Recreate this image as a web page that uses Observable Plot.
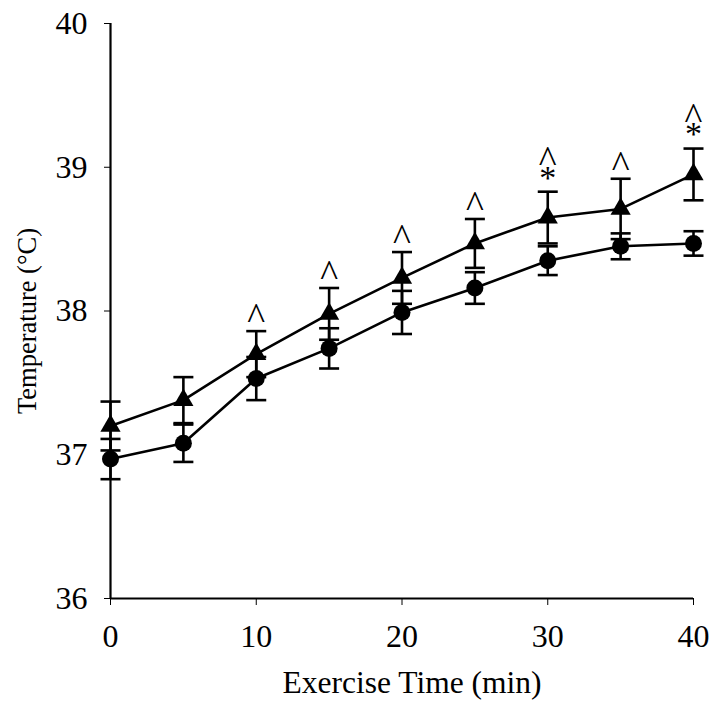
<!DOCTYPE html>
<html>
<head>
<meta charset="utf-8">
<script src="https://cdn.jsdelivr.net/npm/d3@7"></script>
<script src="https://cdn.jsdelivr.net/npm/@observablehq/plot@0.6"></script>
<style>
  body { margin: 0; background: #fff; }
</style>
</head>
<body>
<div id="chart"></div>
<script>
// Exercise time points (min)
const timeMin = [0, 5, 10, 15, 20, 25, 30, 35, 40];

// Triangle series: mean temperature (°C) and standard error
const meanTriangle = [37.20, 37.38, 37.70, 37.98, 38.23, 38.47, 38.65, 38.71, 38.95];
const seTriangle   = [0.17, 0.16, 0.16, 0.18, 0.18, 0.17, 0.18, 0.21, 0.18];

// Circle series: mean temperature (°C) and standard error
const meanCircle = [36.97, 37.08, 37.53, 37.74, 37.99, 38.16, 38.35, 38.45, 38.47];
const seCircle   = [0.14, 0.13, 0.15, 0.14, 0.15, 0.11, 0.10, 0.09, 0.085];

// Significance marks drawn above the triangle series
const caretMarks = ["", "", "^", "^", "^", "^", "^", "^", "^"];
const starMarks  = ["", "", "", "", "", "", "*", "", "*"];

// Axis ticks
const xTicks = [0, 10, 20, 30, 40];
const yTicks = [36, 37, 38, 39, 40];

const rows = (means, ses) => timeMin.map((t, i) => ({
  time: t, mean: means[i], lo: means[i] - ses[i], hi: means[i] + ses[i],
  caret: caretMarks[i], star: starMarks[i]
}));
const triRows = rows(meanTriangle, seTriangle);
const cirRows = rows(meanCircle, seCircle);
const allRows = [...triRows, ...cirRows];

// Horizontal error-bar cap
const capSymbol = {
  draw(ctx) { ctx.moveTo(-10, 0); ctx.lineTo(10, 0); }
};

const serif = "Liberation Serif, Times New Roman, serif";

const chart = Plot.plot({
  width: 714,
  height: 702,
  marginLeft: 110,
  marginRight: 21,
  marginTop: 23,
  marginBottom: 104,
  style: { fontFamily: serif, fontSize: "32px", color: "#000", background: "#fff" },
  x: { domain: [0, 40], ticks: xTicks, tickSize: 7, tickPadding: 19, label: null, tickFormat: d => String(d) },
  y: { domain: [36, 40], ticks: yTicks, tickSize: 6, tickPadding: 17, label: null, tickFormat: d => String(d) },
  marks: [
    // axis lines
    Plot.ruleX([0], { y1: 36, y2: 40, stroke: "#000", strokeWidth: 2.2 }),
    Plot.ruleY([36], { x1: 0, x2: 40, stroke: "#000", strokeWidth: 2.2 }),
    // error bars
    Plot.ruleX(allRows, { x: "time", y1: "lo", y2: "hi", stroke: "#000", strokeWidth: 2.6 }),
    Plot.dot(allRows, { x: "time", y: "hi", symbol: capSymbol, stroke: "#000", strokeWidth: 2.6, fill: "none" }),
    Plot.dot(allRows, { x: "time", y: "lo", symbol: capSymbol, stroke: "#000", strokeWidth: 2.6, fill: "none" }),
    // series lines
    Plot.line(triRows, { x: "time", y: "mean", stroke: "#000", strokeWidth: 2.6 }),
    Plot.line(cirRows, { x: "time", y: "mean", stroke: "#000", strokeWidth: 2.6 }),
    // markers
    Plot.dot(triRows, { x: "time", y: "mean", symbol: "triangle", r: 7.5, fill: "#000", stroke: "none" }),
    Plot.dot(cirRows, { x: "time", y: "mean", symbol: "circle", r: 8.5, fill: "#000", stroke: "none" }),
    // significance marks: caret alone, or caret above an asterisk
    Plot.text(triRows, { filter: d => d.caret && !d.star, x: "time", y: "hi", text: "caret", dy: -14, fontSize: 38, fontFamily: serif, fill: "#000" }),
    Plot.text(triRows, { filter: d => d.caret && d.star, x: "time", y: "hi", text: "caret", dy: -32, fontSize: 38, fontFamily: serif, fill: "#000" }),
    Plot.text(triRows, { filter: d => d.star, x: "time", y: "hi", text: "star", dy: -14, fontSize: 34, fontFamily: serif, fill: "#000" }),
    // axis titles
    Plot.text(["Exercise Time (min)"], { frameAnchor: "bottom", dx: 10, dy: 94, fontSize: 31.5, fontFamily: serif, fill: "#000" }),
    Plot.text(["Temperature (°C)"], { frameAnchor: "left", textAnchor: "middle", dx: -83, dy: 10, rotate: -90, fontSize: 26.5, fontFamily: serif, fill: "#000" })
  ]
});

document.getElementById("chart").appendChild(chart);
</script>
</body>
</html>
